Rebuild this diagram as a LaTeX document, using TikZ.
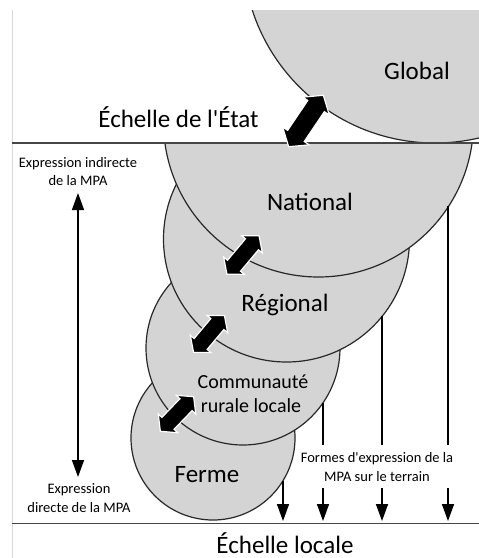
\documentclass[tikz,border=0pt]{standalone}
\usepackage{fontspec}
\setmainfont{Carlito}[Ligatures=TeXOff]
\usetikzlibrary{arrows.meta}
\definecolor{discfill}{RGB}{212,212,212}
\definecolor{circline}{RGB}{40,40,40}
\definecolor{rule}{RGB}{70,70,70}
\definecolor{frameline}{RGB}{215,215,215}
\begin{document}
\begin{tikzpicture}[x=1pt,y=-1pt,
  disc/.style={circle, draw=circline, fill=discfill, line width=1.2pt, inner sep=0pt, outer sep=0pt},
  big/.style={font=\fontsize{25}{28}\selectfont, inner sep=0pt, anchor=base},
  mid/.style={font=\fontsize{20}{23}\selectfont, inner sep=0pt, anchor=base},
  small/.style={font=\fontsize{14.5}{18.5}\selectfont, inner sep=0pt, anchor=base, align=center},
  hrule/.style={draw=rule, line width=1.3pt},
  thin/.style={draw=black, line width=1.5pt},
  tip/.style={-{Triangle[length=17pt,width=12pt]}},
  dtip/.style={{Triangle[length=17pt,width=12pt]}-{Triangle[length=17pt,width=12pt]}},
  pics/blockarr/.style n args={4}{code={
    \fill[black, draw=white, line width=1.2pt]
      ({-(#1)/2},0) -- ({-(#1)/2+(#2)},{#3}) -- ({-(#1)/2+(#2)},{#4})
      -- ({(#1)/2-(#2)},{#4}) -- ({(#1)/2-(#2)},{#3}) -- ({(#1)/2},0)
      -- ({(#1)/2-(#2)},{-(#3)}) -- ({(#1)/2-(#2)},{-(#4)})
      -- ({-(#1)/2+(#2)},{-(#4)}) -- ({-(#1)/2+(#2)},{-(#3)}) -- cycle;
  }}
]
\useasboundingbox (0,0) rectangle (479,558);
\fill[white] (0,0) rectangle (479,558);

% frame line on the left
\coordinate (fl1) at (12.5,10);
\coordinate (fl2) at (12.5,558);
\draw[draw=frameline, line width=0.8pt] (fl1) -- (fl2);

% discs, bottom first, all below the state line
\begin{scope}
  \clip (0,143) rectangle (479,558);
  \node[disc, minimum size=164pt] (ferme) at (213,438) {};
  \node[disc, minimum size=194pt] (comm) at (243,348) {};
  \node[disc, minimum size=246pt] (reg) at (286.5,239) {};
  \node[disc, minimum size=310pt] (nat) at (318.5,122) {};
\end{scope}
\begin{scope}
  \clip (0,10) rectangle (479,143);
  \node[disc, minimum size=384pt] (glob) at (435,-49) {};
\end{scope}

% horizontal rules
\coordinate (s1) at (12,143);
\coordinate (s2) at (479,143);
\coordinate (b1) at (12,523.5);
\coordinate (b2) at (479,523.5);
\draw[hrule] (s1) -- (s2);
\draw[hrule] (b1) -- (b2);

% labels
\node[big] (lglob) at (417,79) {Global};
\node[big] (letat) at (178.5,127) {Échelle de l'État};
\node[big] (lnat) at (310,210) {National};
\node[big] (lreg) at (285,311) {Régional};
\node[mid] (lcomm1) at (253,388) {Communauté};
\node[mid] (lcomm2) at (251,412) {rurale locale};
\node[big] (lferme) at (207,482) {Ferme};
\node[big] (lloc) at (285,553) {Échelle locale};

\node[small] (ind1) at (78,167) {Expression indirecte};
\node[small] (ind2) at (78,185) {de la MPA};
\node[small] (dir1) at (79,493) {Expression};
\node[small] (dir2) at (79,512) {directe de la MPA};
\node[small] (form1) at (377,462) {Formes d'expression de la};
\node[small] (form2) at (377,481) {MPA sur le terrain};

% left double arrow
\coordinate (la1) at (78,193);
\coordinate (la2) at (78,477);
\draw[thin, dtip] (la1) -- (la2);

% right arrows
\coordinate (r1a) at (283,481);
\coordinate (r1b) at (283,521);
\draw[thin, tip] (r1a) -- (r1b);
\coordinate (r2a) at (323,403);
\coordinate (r2m) at (323,445);
\coordinate (r2n) at (323,488);
\coordinate (r2b) at (323,521);
\draw[thin] (r2a) -- (r2m);
\draw[thin, tip] (r2n) -- (r2b);
\coordinate (r3a) at (382,316);
\coordinate (r3m) at (382,445);
\coordinate (r3n) at (382,488);
\coordinate (r3b) at (382,521);
\draw[thin] (r3a) -- (r3m);
\draw[thin, tip] (r3n) -- (r3b);
\coordinate (r4a) at (448,206);
\coordinate (r4m) at (448,445);
\coordinate (r4n) at (448,488);
\coordinate (r4b) at (448,521);
\draw[thin] (r4a) -- (r4m);
\draw[thin, tip] (r4n) -- (r4b);

% block double arrows
\pic[rotate=56] at (306,121) {blockarr={62}{13}{16}{10}};
\pic[rotate=50] at (243,255) {blockarr={50}{11}{13.5}{8.5}};
\pic[rotate=50] at (209,334) {blockarr={48}{11}{13.5}{8.5}};
\pic[rotate=46] at (177,414) {blockarr={48}{11}{13.5}{8.5}};
\end{tikzpicture}
\end{document}
